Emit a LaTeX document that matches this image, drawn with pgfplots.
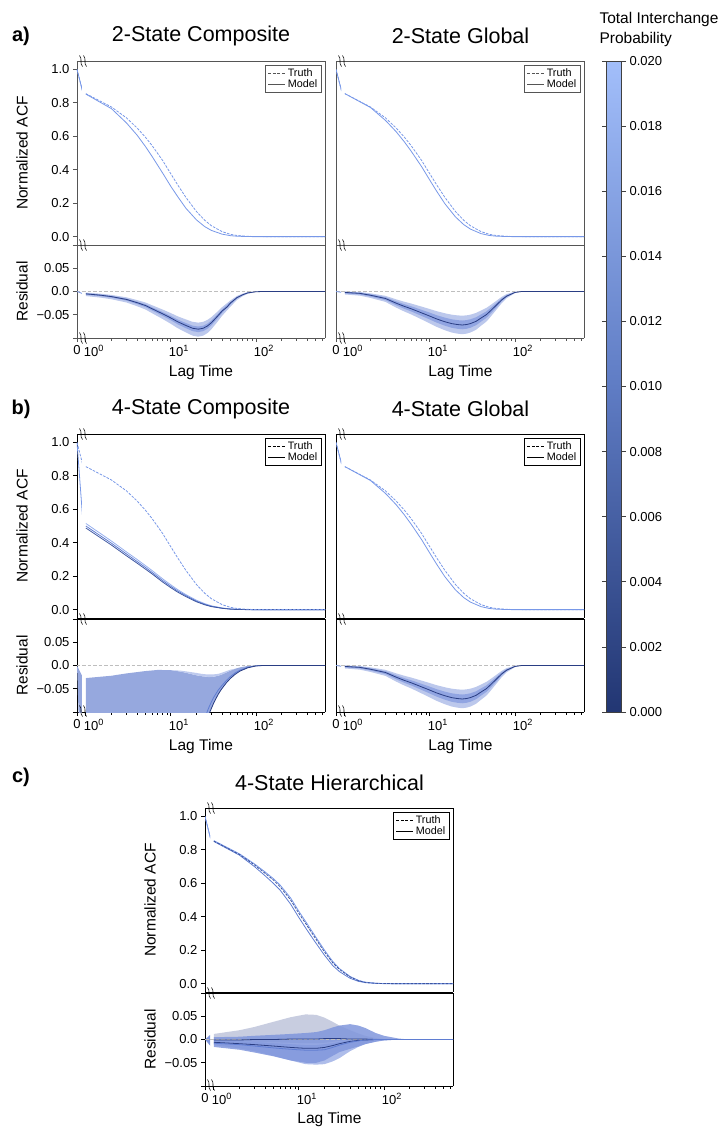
\documentclass[border=0pt]{standalone}
\usepackage{pgfplots}
\pgfplotsset{compat=1.18}
\usepackage{pgfplotstable}
\usepackage{fontspec}
\setmainfont{Liberation Sans}

\newcommand\fTick{\fontsize{13}{15.6}\selectfont}
\newcommand\fLab{\fontsize{15.5}{18.6}\selectfont}
\newcommand\fTitle{\fontsize{21.5}{25.8}\selectfont}
\newcommand\fLeg{\fontsize{10.8}{13}\selectfont}
\newcommand\fPanel{\fontsize{20}{24}\selectfont\bfseries}

\definecolor{acf}{RGB}{120,152,232}
\definecolor{acfL}{RGB}{150,175,238}
\definecolor{acfD}{RGB}{95,125,210}
\definecolor{acfN}{RGB}{60,85,160}
\definecolor{bandL}{RGB}{188,200,236}
\definecolor{bandM}{RGB}{145,165,226}
\definecolor{navy}{RGB}{42,62,132}
\definecolor{zgray}{RGB}{190,190,190}
\definecolor{fillB}{RGB}{150,168,222}
\definecolor{fillBL}{RGB}{190,202,238}
\definecolor{cgray}{RGB}{200,205,224}
\definecolor{cB1}{RGB}{128,150,220}
\definecolor{cB2}{RGB}{165,182,232}
\definecolor{frA}{RGB}{85,85,85}

\pgfplotsset{colormap={cbmap}{rgb255=(34,54,115) rgb255=(95,124,196) rgb255=(162,190,250)}}

\pgfplotsset{
 myBase/.style={scale only axis, enlargelimits=false, clip=true, tick align=outside,
   major tick length=4pt, minor tick length=2.5pt, axis line style={line width=0.9pt},
   tick style={line width=0.8pt}, ticklabel style={font=\fTick}},
 myFC/.style={axis line style={draw=#1}, tick style={draw=#1}},
 myAcf/.style={myBase, height=184pt, ymin=-0.05, ymax=1.05},
 myRes/.style={myBase, height=93pt, ymin=-0.1, ymax=0.1},
 myNarrow/.style={width=5pt, xmin=0, xmax=0.8, axis y line*=left, ytick pos=left},
 myWide/.style={width=243pt, axis y line*=right, ytick=\empty},
 myAcfT/.style={ytick={0,0.2,0.4,0.6,0.8,1}, yticklabels={{0.0},{0.2},{0.4},{0.6},{0.8},{1.0}}},
 myResT/.style={ytick={-0.1,-0.05,0,0.05,0.1}, yticklabels={{},{−0.05},{0.0},{0.05},{}}},
 myLogT/.style={xtick={1,10,100}, xticklabels={{10\textsuperscript{0}},{10\textsuperscript{1}},{10\textsuperscript{2}}},
   minor xtick={2,3,4,5,6,7,8,9,20,30,40,50,60,70,80,90,200,300,400,500,600},
   xtick pos=left, xticklabel style={xshift=8pt}},
 myZeroT/.style={xtick={0}, xticklabels={0}, xtick pos=left},
 myYlab/.style={ylabel={#1}, ylabel style={font=\fLab, at={(rel axis cs:-11,0.5)}, anchor=center}},
 myLeg/.style={legend style={at={(0.986,0.978)}, anchor=north east, draw=#1, line width=0.8pt, fill=white,
   font=\fLeg, inner xsep=2pt, inner ysep=1pt, row sep=-2pt, cells={anchor=west}}},
 truthline/.style={forget plot, draw=acf, line width=0.8pt, dash pattern=on 2.6pt off 1.3pt},
 modelline/.style={forget plot, draw=acf, line width=0.8pt},
 bandfill/.style={forget plot, fill=#1, draw=none},
 zeroline/.style={forget plot, draw=zgray, line width=0.8pt, dash pattern=on 3.5pt off 2pt},
 cline/.style={forget plot, draw=#1, line width=0.8pt},
 legend image code/.code={\draw[#1] (0pt,0pt) -- (17pt,0pt);},
}

\tikzset{brk/.pic={\draw[line width=0.6pt, black] (-1.5,5.5) .. controls (1.8,2) and (-1.8,-2) .. (1.5,-5.5);
  \draw[line width=0.6pt, black] (2.5,5.5) .. controls (5.8,2) and (2.2,-2) .. (5.5,-5.5);}}

% ---------------- data ----------------
\pgfplotstableread{
lag y
1 0.855
2 0.775
3 0.71
4 0.65
5 0.595
6 0.545
8 0.455
10 0.375
12 0.31
15 0.235
20 0.15
25 0.098
30 0.065
40 0.03
50 0.014
60 0.007
80 0.002
100 0.0005
150 0
650 0
}\tTruth

\pgfplotstableread{
lag y
1 0.852
2 0.765
3 0.68
4 0.607
5 0.54
6 0.48
8 0.38
10 0.30
12 0.24
15 0.17
20 0.10
25 0.06
30 0.037
40 0.015
50 0.006
60 0.0025
80 0.0005
100 0
650 0
}\tMcomp

\pgfplotstableread{
lag y
1 0.855
2 0.772
3 0.695
4 0.628
5 0.567
6 0.512
8 0.418
10 0.337
12 0.272
15 0.197
20 0.118
25 0.072
30 0.045
40 0.018
50 0.007
60 0.003
80 0.0006
100 0
650 0
}\tMglob

\pgfplotstableread{
lag a b c
1 0.515 0.50 0.488
2 0.41 0.397 0.386
3 0.345 0.333 0.322
4 0.3 0.288 0.278
5 0.264 0.253 0.243
6 0.234 0.223 0.214
8 0.184 0.174 0.165
10 0.148 0.139 0.131
12 0.12 0.112 0.105
15 0.09 0.084 0.078
20 0.056 0.051 0.047
25 0.036 0.032 0.029
30 0.023 0.02 0.018
40 0.01 0.009 0.008
50 0.0045 0.004 0.003
60 0.002 0.002 0.001
80 0.0005 0.0005 0
100 0 0 0
650 0 0 0
}\tMB

\pgfplotstableread{
lag t m1 m2
1 0.852 0.85 0.855
2 0.772 0.768 0.776
3 0.71 0.70 0.716
4 0.66 0.645 0.668
5 0.62 0.60 0.628
6 0.58 0.56 0.59
8 0.50 0.475 0.512
10 0.42 0.395 0.432
12 0.36 0.333 0.372
15 0.285 0.26 0.296
20 0.19 0.17 0.20
25 0.125 0.108 0.133
30 0.085 0.072 0.09
40 0.04 0.032 0.043
50 0.018 0.014 0.02
60 0.008 0.006 0.009
80 0.002 0.0015 0.0025
100 0.0005 0 0.0006
150 0 0 0
650 0 0 0
}\tC

\pgfplotstableread{
lag cA cG
1 -0.005 -0.002
1.5 -0.008 -0.004
2 -0.011 -0.008
3 -0.017 -0.015
4 -0.024 -0.025
5 -0.030 -0.032
6 -0.037 -0.037
8 -0.048 -0.046
10 -0.057 -0.053
12 -0.065 -0.059
15 -0.073 -0.065
18 -0.079 -0.069
21 -0.081 -0.071
24 -0.079 -0.072
27 -0.074 -0.071
30 -0.067 -0.069
35 -0.054 -0.064
40 -0.042 -0.057
46 -0.033 -0.050
50 -0.025 -0.044
60 -0.013 -0.030
70 -0.007 -0.018
80 -0.003 -0.010
100 -0.0005 -0.002
120 0 0
650 0 0
}\tResLines

\pgfplotstableread{
lag l l2
20 -0.25 -0.40
23 -0.14 -0.20
26 -0.105 -0.13
28 -0.09 -0.105
30 -0.078 -0.092
32 -0.068 -0.080
36 -0.053 -0.062
39 -0.045 -0.052
45 -0.032 -0.037
50 -0.024 -0.028
57 -0.016 -0.019
65 -0.010 -0.012
80 -0.004 -0.005
100 -0.0005 -0.001
120 0 0
650 0 0
}\tResB

\pgfplotstableread{
lag d1 d2 d3
1 -0.001 -0.006 -0.008
2 -0.001 -0.009 -0.011
3 0 -0.011 -0.014
5 0 -0.014 -0.018
8 0.001 -0.017 -0.021
12 0.001 -0.019 -0.023
16 0.001 -0.019 -0.023
20 0.002 -0.017 -0.022
25 0.002 -0.013 -0.017
30 0.002 -0.009 -0.012
40 0.001 -0.004 -0.006
50 0.001 -0.002 -0.003
60 0.001 -0.001 -0.001
80 0 0 0
100 0 0 0
650 0 0 0
}\tResC

\begin{document}
\begin{tikzpicture}[x=1pt,y=1pt]
\useasboundingbox (0,0) rectangle (722,-1128);

% ======== Panel a ========
\node[font=\fPanel] at (21,-36) {a)};
\node[font=\fTitle] at (201,-36) {2-State Composite};
\node[font=\fTitle] at (460.5,-36) {2-State Global};

% a-left
\begin{axis}[myAcf, myNarrow, myAcfT, myFC=frA, xtick=\empty, at={(77pt,-61pt)}, anchor=north west, myYlab={Normalized ACF}]
\addplot[truthline] coordinates {(0,1)(1,0.855)};
\addplot[modelline] coordinates {(0,1)(1,0.852)};
\end{axis}
\begin{axis}[xmode=log, xmin=0.9, xmax=650, myAcf, myWide, myFC=frA, xtick=\empty, at={(82pt,-61pt)}, anchor=north west, myLeg=frA]
\addlegendimage{draw=frA, line width=0.9pt, dash pattern=on 3pt off 1.5pt}\addlegendentry{Truth}
\addlegendimage{draw=frA, line width=0.9pt}\addlegendentry{Model}
\addplot[modelline] table[x=lag,y=y]{\tMcomp};
\addplot[truthline] table[x=lag,y=y]{\tTruth};
\end{axis}
\begin{axis}[myRes, myNarrow, myResT, myFC=frA, myZeroT, at={(77pt,-245pt)}, anchor=north west, myYlab={Residual}]
\addplot[zeroline] coordinates {(0,0)(0.8,0)};
\addplot[modelline] coordinates {(0,0)(1,-0.005)};
\end{axis}
\begin{axis}[xmode=log, xmin=0.9, xmax=650, myRes, myWide, myLogT, myFC=frA, at={(82pt,-245pt)}, anchor=north west]
\addplot[bandfill=bandL] coordinates {(1,-0.0098)(1.5,-0.0132)(2,-0.0167)(3,-0.0236)(4,-0.0316)(5,-0.0385)(6,-0.0466)(8,-0.0592)(10,-0.0696)(12,-0.0788)(15,-0.088)(18,-0.0949)(21,-0.0972)(24,-0.0949)(27,-0.0891)(30,-0.081)(35,-0.0661)(40,-0.0523)(50,-0.0328)(60,-0.018)(70,-0.01)(80,-0.005)(100,-0.001)(120,0)(650,0)
(650,0)(120,0)(100,0)(80,-0.0015)(70,-0.0045)(60,-0.0095)(50,-0.0193)(40,-0.0337)(35,-0.0439)(30,-0.055)(27,-0.0609)(24,-0.0652)(21,-0.0669)(18,-0.0652)(15,-0.06)(12,-0.0533)(10,-0.0465)(8,-0.0388)(6,-0.0295)(5,-0.0235)(4,-0.0184)(3,-0.0125)(2,-0.0074)(1.5,-0.0048)(1,-0.0023)} -- cycle;
\addplot[bandfill=bandM] coordinates {(1,-0.0068)(1.5,-0.01)(2,-0.0132)(3,-0.0195)(4,-0.0269)(5,-0.0333)(6,-0.0407)(8,-0.0524)(10,-0.0619)(12,-0.0704)(15,-0.0789)(18,-0.0852)(21,-0.0874)(24,-0.0852)(27,-0.0799)(30,-0.0725)(35,-0.0587)(40,-0.046)(50,-0.028)(60,-0.0148)(70,-0.008)(80,-0.0035)(100,-0.0006)(120,0)(650,0)
(650,0)(120,0)(100,-0.0004)(80,-0.0022)(70,-0.0058)(60,-0.0114)(50,-0.0227)(40,-0.0387)(35,-0.05)(30,-0.0622)(27,-0.0688)(24,-0.0735)(21,-0.0753)(18,-0.0735)(15,-0.0678)(12,-0.0603)(10,-0.0528)(8,-0.0443)(6,-0.034)(5,-0.0274)(4,-0.0218)(3,-0.0152)(2,-0.0095)(1.5,-0.0067)(1,-0.0039)} -- cycle;
\addplot[zeroline] coordinates {(0.9,0)(650,0)};
\addplot[cline=navy] table[x=lag,y=cA]{\tResLines};
\end{axis}
\node[font=\fLab] at (201,-372) {Lag Time};

% a-right
\begin{axis}[myAcf, myNarrow, myFC=frA, ytick=\empty, xtick=\empty, at={(336pt,-61pt)}, anchor=north west]
\addplot[truthline] coordinates {(0,1)(1,0.855)};
\addplot[modelline] coordinates {(0,1)(1,0.855)};
\end{axis}
\begin{axis}[xmode=log, xmin=0.9, xmax=650, myAcf, myWide, myFC=frA, xtick=\empty, at={(341pt,-61pt)}, anchor=north west, myLeg=frA]
\addlegendimage{draw=frA, line width=0.9pt, dash pattern=on 3pt off 1.5pt}\addlegendentry{Truth}
\addlegendimage{draw=frA, line width=0.9pt}\addlegendentry{Model}
\addplot[modelline] table[x=lag,y=y]{\tMglob};
\addplot[truthline] table[x=lag,y=y]{\tTruth};
\end{axis}
\begin{axis}[myRes, myNarrow, myFC=frA, ytick=\empty, myZeroT, at={(336pt,-245pt)}, anchor=north west]
\addplot[zeroline] coordinates {(0,0)(0.8,0)};
\addplot[modelline] coordinates {(0,0)(1,-0.002)};
\end{axis}
\begin{axis}[xmode=log, xmin=0.9, xmax=650, myRes, myWide, myLogT, myFC=frA, at={(341pt,-245pt)}, anchor=north west]
\addplot[bandfill=bandL] coordinates {(1,-0.0064)(1.5,-0.0089)(2,-0.0138)(3,-0.0223)(4,-0.0345)(5,-0.043)(6,-0.0491)(8,-0.0601)(10,-0.0687)(12,-0.076)(15,-0.0833)(18,-0.0882)(21,-0.0906)(24,-0.0918)(27,-0.0906)(30,-0.0882)(35,-0.0821)(40,-0.0735)(46,-0.065)(50,-0.0577)(60,-0.04)(70,-0.025)(80,-0.0145)(100,-0.0035)(120,0)(650,0)
(650,0)(120,0)(100,-0.0005)(80,-0.0055)(70,-0.0115)(60,-0.0205)(50,-0.031)(46,-0.0355)(40,-0.0408)(35,-0.046)(30,-0.0498)(27,-0.0513)(24,-0.052)(21,-0.0513)(18,-0.0498)(15,-0.0468)(12,-0.0423)(10,-0.0378)(8,-0.0325)(6,-0.0258)(5,-0.022)(4,-0.0168)(3,-0.0093)(2,-0.004)(1.5,-0.001)(1,0.0005)} -- cycle;
\addplot[bandfill=bandM] coordinates {(1,-0.0042)(1.5,-0.0064)(2,-0.0108)(3,-0.0185)(4,-0.0295)(5,-0.0372)(6,-0.0427)(8,-0.0526)(10,-0.0603)(12,-0.0669)(15,-0.0735)(18,-0.0779)(21,-0.0801)(24,-0.0812)(27,-0.0801)(30,-0.0779)(35,-0.0724)(40,-0.0647)(46,-0.057)(50,-0.0504)(60,-0.035)(70,-0.0208)(80,-0.0118)(100,-0.0025)(120,0)(650,0)
(650,0)(120,0)(100,-0.0015)(80,-0.0078)(70,-0.0148)(60,-0.0254)(50,-0.0377)(46,-0.043)(40,-0.0492)(35,-0.0553)(30,-0.0597)(27,-0.0615)(24,-0.0624)(21,-0.0615)(18,-0.0597)(15,-0.0562)(12,-0.0509)(10,-0.0456)(8,-0.0395)(6,-0.0316)(5,-0.0272)(4,-0.021)(3,-0.0122)(2,-0.006)(1.5,-0.0025)(1,-0.0008)} -- cycle;
\addplot[zeroline] coordinates {(0.9,0)(650,0)};
\addplot[cline=navy] table[x=lag,y=cG]{\tResLines};
\end{axis}
\node[font=\fLab] at (460.5,-372) {Lag Time};

% ======== Panel b ========
\node[font=\fPanel] at (21,-409) {b)};
\node[font=\fTitle] at (201,-409) {4-State Composite};
\node[font=\fTitle] at (460.5,-409) {4-State Global};

% b-left
\begin{axis}[myAcf, myNarrow, myAcfT, myFC=black, xtick=\empty, at={(77pt,-434pt)}, anchor=north west, myYlab={Normalized ACF}]
\addplot[truthline] coordinates {(0,1)(1,0.855)};
\addplot[modelline] coordinates {(0,1)(1,0.5)};
\end{axis}
\begin{axis}[xmode=log, xmin=0.9, xmax=650, myAcf, myWide, myFC=black, xtick=\empty, at={(82pt,-434pt)}, anchor=north west, myLeg=black]
\addlegendimage{draw=black, line width=0.9pt, dash pattern=on 3pt off 1.5pt}\addlegendentry{Truth}
\addlegendimage{draw=black, line width=0.9pt}\addlegendentry{Model}
\addplot[cline=acfL] table[x=lag,y=a]{\tMB};
\addplot[cline=acfD] table[x=lag,y=b]{\tMB};
\addplot[cline=acfN] table[x=lag,y=c]{\tMB};
\addplot[truthline] table[x=lag,y=y]{\tTruth};
\end{axis}
\begin{axis}[myRes, myNarrow, myResT, myFC=black, myZeroT, at={(77pt,-619pt)}, anchor=north west, myYlab={Residual}]
\addplot[bandfill=fillB] coordinates {(0,0)(1,-0.027)(1,-0.4)} -- cycle;
\addplot[zeroline] coordinates {(0,0)(0.8,0)};
\end{axis}
\begin{axis}[xmode=log, xmin=0.9, xmax=650, myRes, myWide, myLogT, myFC=black, at={(82pt,-619pt)}, anchor=north west]
\addplot[bandfill=fillB] coordinates {(1,-0.027)(2,-0.022)(3,-0.017)(5,-0.012)(7,-0.0095)(10,-0.01)(13,-0.013)(17,-0.018)(20,-0.021)(23,-0.023)(26,-0.024)(28,-0.025)(32,-0.024)(36,-0.022)(39,-0.02)(45,-0.015)(50,-0.011)(57,-0.007)(65,-0.004)(80,-0.001)(100,0)(650,0)
(650,0)(120,0)(100,-0.001)(80,-0.005)(65,-0.012)(57,-0.019)(50,-0.028)(45,-0.037)(39,-0.052)(36,-0.062)(32,-0.08)(30,-0.092)(28,-0.105)(26,-0.13)(23,-0.2)(20,-0.4)(17,-0.4)(13,-0.4)(10,-0.4)(7,-0.4)(5,-0.4)(3,-0.4)(2,-0.4)(1,-0.4)} -- cycle;
\addplot[bandfill=fillBL] coordinates {(10,-0.01)(13,-0.011)(17,-0.014)(20,-0.016)(23,-0.018)(26,-0.019)(28,-0.019)(32,-0.019)(36,-0.018)(39,-0.016)(45,-0.012)(50,-0.009)(57,-0.007)
(50,-0.011)(45,-0.015)(39,-0.02)(36,-0.022)(32,-0.024)(28,-0.025)(26,-0.024)(23,-0.023)(20,-0.021)(17,-0.018)(13,-0.013)(10,-0.01)} -- cycle;
\addplot[zeroline] coordinates {(0.9,0)(650,0)};
\addplot[cline=acfD] table[x=lag,y=l]{\tResB};
\addplot[cline=navy] table[x=lag,y=l2]{\tResB};
\end{axis}
\node[font=\fLab] at (201,-746) {Lag Time};

% b-right
\begin{axis}[myAcf, myNarrow, myFC=black, ytick=\empty, xtick=\empty, at={(336pt,-434pt)}, anchor=north west]
\addplot[truthline] coordinates {(0,1)(1,0.855)};
\addplot[modelline] coordinates {(0,1)(1,0.855)};
\end{axis}
\begin{axis}[xmode=log, xmin=0.9, xmax=650, myAcf, myWide, myFC=black, xtick=\empty, at={(341pt,-434pt)}, anchor=north west, myLeg=black]
\addlegendimage{draw=black, line width=0.9pt, dash pattern=on 3pt off 1.5pt}\addlegendentry{Truth}
\addlegendimage{draw=black, line width=0.9pt}\addlegendentry{Model}
\addplot[modelline] table[x=lag,y=y]{\tMglob};
\addplot[truthline] table[x=lag,y=y]{\tTruth};
\end{axis}
\begin{axis}[myRes, myNarrow, myFC=black, ytick=\empty, myZeroT, at={(336pt,-619pt)}, anchor=north west]
\addplot[zeroline] coordinates {(0,0)(0.8,0)};
\addplot[modelline] coordinates {(0,0)(1,-0.002)};
\end{axis}
\begin{axis}[xmode=log, xmin=0.9, xmax=650, myRes, myWide, myLogT, myFC=black, at={(341pt,-619pt)}, anchor=north west]
\addplot[bandfill=bandL] coordinates {(1,-0.0064)(1.5,-0.0089)(2,-0.0138)(3,-0.0223)(4,-0.0345)(5,-0.043)(6,-0.0491)(8,-0.0601)(10,-0.0687)(12,-0.076)(15,-0.0833)(18,-0.0882)(21,-0.0906)(24,-0.0918)(27,-0.0906)(30,-0.0882)(35,-0.0821)(40,-0.0735)(46,-0.065)(50,-0.0577)(60,-0.04)(70,-0.025)(80,-0.0145)(100,-0.0035)(120,0)(650,0)
(650,0)(120,0)(100,-0.0005)(80,-0.0055)(70,-0.0115)(60,-0.0205)(50,-0.031)(46,-0.0355)(40,-0.0408)(35,-0.046)(30,-0.0498)(27,-0.0513)(24,-0.052)(21,-0.0513)(18,-0.0498)(15,-0.0468)(12,-0.0423)(10,-0.0378)(8,-0.0325)(6,-0.0258)(5,-0.022)(4,-0.0168)(3,-0.0093)(2,-0.004)(1.5,-0.001)(1,0.0005)} -- cycle;
\addplot[bandfill=bandM] coordinates {(1,-0.0042)(1.5,-0.0064)(2,-0.0108)(3,-0.0185)(4,-0.0295)(5,-0.0372)(6,-0.0427)(8,-0.0526)(10,-0.0603)(12,-0.0669)(15,-0.0735)(18,-0.0779)(21,-0.0801)(24,-0.0812)(27,-0.0801)(30,-0.0779)(35,-0.0724)(40,-0.0647)(46,-0.057)(50,-0.0504)(60,-0.035)(70,-0.0208)(80,-0.0118)(100,-0.0025)(120,0)(650,0)
(650,0)(120,0)(100,-0.0015)(80,-0.0078)(70,-0.0148)(60,-0.0254)(50,-0.0377)(46,-0.043)(40,-0.0492)(35,-0.0553)(30,-0.0597)(27,-0.0615)(24,-0.0624)(21,-0.0615)(18,-0.0597)(15,-0.0562)(12,-0.0509)(10,-0.0456)(8,-0.0395)(6,-0.0316)(5,-0.0272)(4,-0.021)(3,-0.0122)(2,-0.006)(1.5,-0.0025)(1,-0.0008)} -- cycle;
\addplot[zeroline] coordinates {(0.9,0)(650,0)};
\addplot[cline=navy] table[x=lag,y=cG]{\tResLines};
\end{axis}
\node[font=\fLab] at (460.5,-746) {Lag Time};

% ======== Panel c ========
\node[font=\fPanel] at (21,-777) {c)};
\node[font=\fTitle] at (329.5,-783) {4-State Hierarchical};

\begin{axis}[myAcf, myNarrow, myAcfT, myFC=black, xtick=\empty, at={(205pt,-808pt)}, anchor=north west, myYlab={Normalized ACF}]
\addplot[truthline] coordinates {(0,1)(1,0.852)};
\addplot[modelline] coordinates {(0,1)(1,0.85)};
\end{axis}
\begin{axis}[xmode=log, xmin=0.9, xmax=650, myAcf, myWide, myFC=black, xtick=\empty, at={(210pt,-808pt)}, anchor=north west, myLeg=black]
\addlegendimage{draw=black, line width=0.9pt, dash pattern=on 3pt off 1.5pt}\addlegendentry{Truth}
\addlegendimage{draw=black, line width=0.9pt}\addlegendentry{Model}
\addplot[cline=acfD] table[x=lag,y=m1]{\tC};
\addplot[cline=acf] table[x=lag,y=m2]{\tC};
\addplot[truthline, draw=acfN] table[x=lag,y=t]{\tC};
\end{axis}
\begin{axis}[myRes, myNarrow, myResT, myFC=black, myZeroT, at={(205pt,-993pt)}, anchor=north west, myYlab={Residual}]
\addplot[bandfill=cB1] coordinates {(0,0)(1,0.012)(1,-0.016)} -- cycle;
\addplot[zeroline] coordinates {(0,0)(0.8,0)};
\end{axis}
\begin{axis}[xmode=log, xmin=0.9, xmax=650, myRes, myWide, myLogT, myFC=black, at={(210pt,-993pt)}, anchor=north west]
\addplot[bandfill=cgray] coordinates {(1,0.012)(2,0.02)(3,0.027)(5,0.038)(8,0.048)(12,0.054)(16,0.053)(20,0.047)(25,0.038)(30,0.03)(40,0.02)(50,0.013)(60,0.008)(80,0.003)(100,0.001)(150,0)(650,0)
(650,0)(150,0)(100,0)(80,0)(60,-0.001)(50,-0.001)(40,-0.002)(30,-0.003)(25,-0.005)(20,-0.007)(16,-0.008)(12,-0.008)(8,-0.007)(5,-0.006)(3,-0.005)(2,-0.004)(1,-0.004)} -- cycle;
\addplot[bandfill=cB2, fill opacity=0.9] coordinates {(1,-0.002)(2,-0.004)(3,-0.005)(5,-0.008)(8,-0.01)(12,-0.012)(16,-0.012)(20,-0.01)(25,-0.008)(30,-0.005)(40,-0.002)(50,-0.001)(60,0)(80,0)(100,0)(150,0)(650,0)
(650,0)(150,0)(100,-0.002)(80,-0.004)(60,-0.01)(50,-0.016)(40,-0.025)(30,-0.04)(25,-0.047)(20,-0.053)(16,-0.054)(12,-0.053)(8,-0.045)(5,-0.035)(3,-0.025)(2,-0.019)(1,-0.012)} -- cycle;
\addplot[bandfill=cB1, fill opacity=0.85] coordinates {(1,0.005)(2,0.006)(3,0.008)(5,0.01)(8,0.012)(12,0.014)(16,0.016)(20,0.02)(25,0.026)(30,0.03)(40,0.033)(50,0.03)(60,0.025)(80,0.014)(100,0.008)(150,0.002)(200,0)(650,0)
(650,0)(200,0)(150,0)(100,-0.002)(80,-0.005)(60,-0.01)(50,-0.015)(40,-0.02)(30,-0.027)(25,-0.035)(20,-0.045)(16,-0.05)(12,-0.05)(8,-0.045)(5,-0.036)(3,-0.028)(2,-0.022)(1,-0.016)} -- cycle;
\addplot[zeroline] coordinates {(0.9,0)(650,0)};
\addplot[cline=navy] table[x=lag,y=d1]{\tResC};
\addplot[cline=navy] table[x=lag,y=d2]{\tResC};
\addplot[cline=acfD] table[x=lag,y=d3]{\tResC};
\end{axis}
\node[font=\fLab] at (329.5,-1119) {Lag Time};

% ======== break marks ========
\foreach \xx/\yy in {81/61,81/245,81/338,340/61,340/245,340/338,81/434,81/619,81/711,340/434,340/619,340/711,209/808,209/993,209/1085}{
  \pic at (\xx,-\yy) {brk};
}

% ======== colorbar ========
\node[font=\fLab, align=left, anchor=west] at (596,-19) {Total Interchange};
\node[font=\fLab, align=left, anchor=west] at (596,-39) {Probability};
\begin{axis}[at={(588pt,-61pt)}, anchor=north west, scale only axis, width=10pt, height=651pt, hide axis,
  xmin=0, xmax=1, ymin=0, ymax=1, colormap name=cbmap, point meta min=0, point meta max=0.02,
  colorbar, colorbar style={at={(parent axis.north east)}, anchor=north west, width=15pt, height=651pt,
   scaled y ticks=false,
   ytick={0,0.002,0.004,0.006,0.008,0.01,0.012,0.014,0.016,0.018,0.02},
   yticklabels={0.000,0.002,0.004,0.006,0.008,0.010,0.012,0.014,0.016,0.018,0.020},
   yticklabel style={font=\fTick}, tick align=outside, major tick length=4.5pt,
   axis line style={draw=black!75, line width=0.8pt}, tick style={draw=black!75, line width=0.8pt}}]
\addplot[draw=none, forget plot] coordinates {(0,0)(1,1)};
\end{axis}
\end{tikzpicture}
\end{document}
